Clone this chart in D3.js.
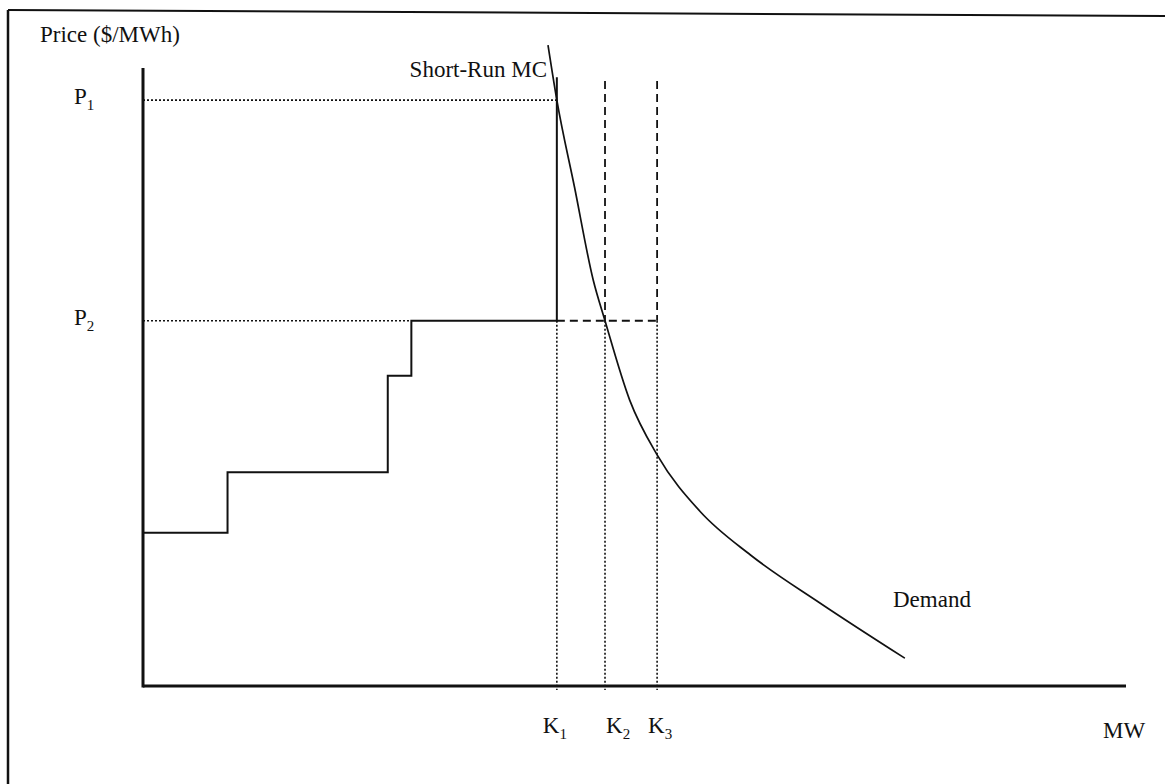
<!DOCTYPE html>
<html>
<head>
<meta charset="utf-8">
<script src="https://cdn.jsdelivr.net/npm/d3@7"></script>
<style>
  html, body { margin: 0; padding: 0; background: #fff; }
  svg { display: block; }
  text { font-family: "Liberation Serif", "Times New Roman", serif; fill: #111; }
</style>
</head>
<body>
<script>
// ---- data (abstract units: MW 0..100, price 0..100) ----
const capacities = [42.1, 47.0, 52.3];          // K1, K2, K3
const capacityLabels = ["K", "K", "K"];
const capacitySubs = ["1", "2", "3"];
const prices = [94.8, 59.1];                   // P1, P2
const priceLabels = ["P", "P"];
const priceSubs = ["1", "2"];
const supplyX = [0, 8.6, 8.6, 24.9, 24.9, 27.3, 27.3, 42.1, 42.1];
const supplyY = [24.8, 24.8, 34.6, 34.6, 50.2, 50.2, 59.1, 59.1, 98.5];
const demandX = [41.2, 42.1, 43.9, 45.8, 47.0, 49.5, 52.3, 56.7, 61.8, 68.9, 77.5];
const demandY = [103.7, 94.8, 80.7, 65.7, 59.1, 46.3, 37.4, 28.2, 21.2, 13.4, 4.5];
const dashTop = 97.9;
const yAxisTitle = "Price ($/MWh)";
const xAxisTitle = "MW";
const supplyLabel = "Short-Run MC";
const demandLabel = "Demand";

const W = 1165, H = 784;
const svg = d3.select("body").append("svg").attr("width", W).attr("height", H);

const x = d3.scaleLinear().domain([0, 100]).range([143, 1126]);
const y = d3.scaleLinear().domain([0, 100]).range([686, 68]);

// frame (scanned page border)
svg.append("line").attr("x1", 8).attr("y1", 10).attr("x2", W).attr("y2", 16)
  .attr("stroke", "#111").attr("stroke-width", 2);
svg.append("line").attr("x1", 8).attr("y1", 10).attr("x2", 8).attr("y2", H)
  .attr("stroke", "#111").attr("stroke-width", 2.5);

const fs = 23, subFs = 15;

// dotted price guides
const priceEnds = [capacities[0], 27.3];
prices.forEach((p, i) => {
  svg.append("line").attr("x1", x(0)).attr("x2", x(priceEnds[i]))
    .attr("y1", y(p)).attr("y2", y(p))
    .attr("stroke", "#111").attr("stroke-width", 1.6).attr("stroke-dasharray", "2,2");
  const t = svg.append("text").attr("x", 74).attr("y", y(p) + 4).attr("font-size", fs);
  t.append("tspan").text(priceLabels[i]);
  t.append("tspan").attr("font-size", subFs).attr("dy", 6).text(priceSubs[i]);
});

// dashed extension of P2 to K3
svg.append("line").attr("x1", x(capacities[0])).attr("x2", x(capacities[2]))
  .attr("y1", y(prices[1])).attr("y2", y(prices[1]))
  .attr("stroke", "#111").attr("stroke-width", 1.8).attr("stroke-dasharray", "8,5");

// capacity lines: dashed above P2 for K2,K3; dotted below P2 for all
capacities.forEach((k, i) => {
  svg.append("line").attr("x1", x(k)).attr("x2", x(k))
    .attr("y1", y(prices[1])).attr("y2", y(0) + 4)
    .attr("stroke", "#111").attr("stroke-width", 1.6).attr("stroke-dasharray", "2,2");
  if (i > 0) {
    svg.append("line").attr("x1", x(k)).attr("x2", x(k))
      .attr("y1", y(dashTop)).attr("y2", y(prices[1]))
      .attr("stroke", "#111").attr("stroke-width", 1.8).attr("stroke-dasharray", "8,5");
  }
});

// supply step curve
const supply = supplyX.map((d, i) => [d, supplyY[i]]);
svg.append("path").datum(supply)
  .attr("d", d3.line().x(d => x(d[0])).y(d => y(d[1])))
  .attr("fill", "none").attr("stroke", "#111").attr("stroke-width", 2);

// demand curve
const demand = demandX.map((d, i) => [d, demandY[i]]);
svg.append("path").datum(demand)
  .attr("d", d3.line().x(d => x(d[0])).y(d => y(d[1])).curve(d3.curveMonotoneX))
  .attr("fill", "none").attr("stroke", "#111").attr("stroke-width", 1.7);

// axes
svg.append("line").attr("x1", x(0)).attr("x2", x(0)).attr("y1", y(100)).attr("y2", y(0) + 1.5)
  .attr("stroke", "#111").attr("stroke-width", 3);
svg.append("line").attr("x1", x(0)).attr("x2", x(100)).attr("y1", y(0)).attr("y2", y(0))
  .attr("stroke", "#111").attr("stroke-width", 3);

// capacity labels
const kOffsets = [-14, 1, -9];
capacities.forEach((k, i) => {
  const t = svg.append("text").attr("x", x(k) + kOffsets[i]).attr("y", 733).attr("font-size", fs);
  t.append("tspan").text(capacityLabels[i]);
  t.append("tspan").attr("font-size", subFs).attr("dy", 6).text(capacitySubs[i]);
});

// titles and labels
svg.append("text").attr("x", 40).attr("y", 42).attr("font-size", fs).text(yAxisTitle);
svg.append("text").attr("x", 1103).attr("y", 738).attr("font-size", fs).text(xAxisTitle);
svg.append("text").attr("x", 547).attr("y", 77).attr("text-anchor", "end").attr("font-size", fs).text(supplyLabel);
svg.append("text").attr("x", 893).attr("y", 607).attr("font-size", fs).text(demandLabel);
</script>
</body>
</html>
